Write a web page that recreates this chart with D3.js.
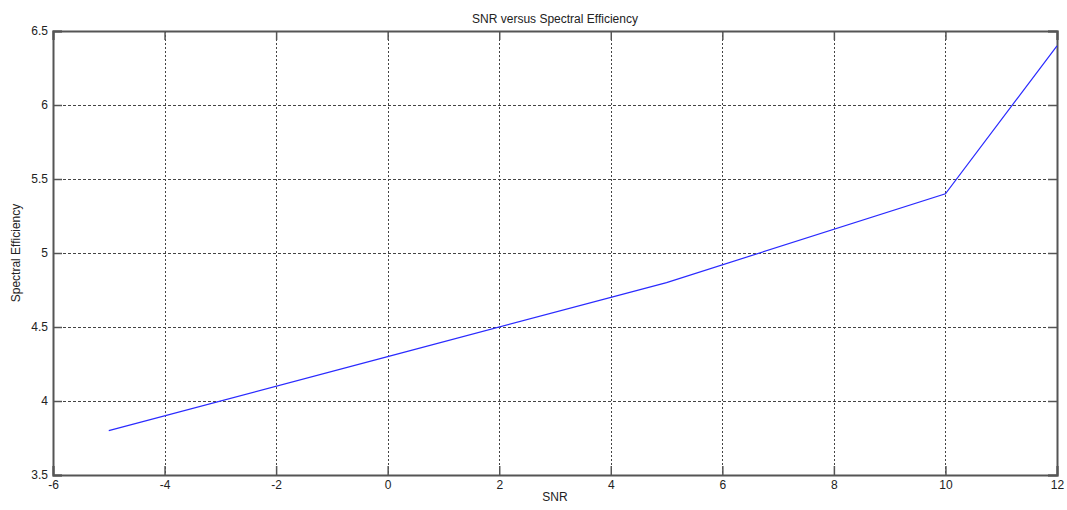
<!DOCTYPE html>
<html>
<head>
<meta charset="utf-8">
<script src="https://cdn.jsdelivr.net/npm/d3@7"></script>
<style>
  html, body { margin: 0; padding: 0; background: #fff; }
  svg { display: block; font-family: "Liberation Sans", Arial, sans-serif; }
</style>
</head>
<body>
<svg id="chart" width="1067" height="510"></svg>
<script>
// SNR (dB) against spectral efficiency
const snr = [-5, 0, 5, 10, 12];
const efficiency = [3.8, 4.3, 4.8, 5.4, 6.4];
const xTicks = [-6, -4, -2, 0, 2, 4, 6, 8, 10, 12];
const yTicks = [3.5, 4, 4.5, 5, 5.5, 6, 6.5];

const svg = d3.select("#chart");
const m = { left: 53, right: 1057, top: 31, bottom: 475 };
const x = d3.scaleLinear().domain([-6, 12]).range([m.left, m.right]);
const y = d3.scaleLinear().domain([3.5, 6.5]).range([m.bottom, m.top]);

const axisColor = "#555";
const gridColor = "#444";
const tickLen = 9;

// grid
const grid = svg.append("g");
grid.selectAll("line.v").data(xTicks.slice(1, -1)).join("line")
  .attr("x1", d => Math.round(x(d)) + 0.5).attr("x2", d => Math.round(x(d)) + 0.5)
  .attr("y1", m.top).attr("y2", m.bottom)
  .attr("stroke", gridColor).attr("stroke-width", 1).attr("stroke-dasharray", "2,2");
grid.selectAll("line.h").data(yTicks.slice(1, -1)).join("line")
  .attr("y1", d => Math.round(y(d)) + 0.5).attr("y2", d => Math.round(y(d)) + 0.5)
  .attr("x1", m.left).attr("x2", m.right)
  .attr("stroke", gridColor).attr("stroke-width", 1).attr("stroke-dasharray", "3,2");

// axes: bottom/left with labels, top/right mirrored ticks
const axisB = d3.axisBottom(x).tickValues(xTicks).tickSize(-tickLen).tickPadding(5).tickFormat(d => String(d));
const axisT = d3.axisTop(x).tickValues(xTicks).tickSize(-tickLen).tickFormat("");
const axisL = d3.axisLeft(y).tickValues(yTicks).tickSize(-tickLen).tickPadding(5).tickFormat(d => String(d));
const axisR = d3.axisRight(y).tickValues(yTicks).tickSize(-tickLen).tickFormat("");

function styleAxis(g) {
  g.select(".domain").attr("stroke", axisColor).attr("stroke-width", 2);
  g.selectAll(".tick line").attr("stroke", axisColor).attr("stroke-width", 1.5);
  g.selectAll(".tick text").attr("fill", "#222").style("font-size", "12px");
}
svg.append("g").attr("transform", `translate(0,${m.bottom})`).call(axisB).call(styleAxis);
svg.append("g").attr("transform", `translate(0,${m.top})`).call(axisT).call(styleAxis);
svg.append("g").attr("transform", `translate(${m.left},0)`).call(axisL).call(styleAxis);
svg.append("g").attr("transform", `translate(${m.right},0)`).call(axisR).call(styleAxis);

// series line
const line = d3.line().x((d, i) => x(snr[i])).y(d => y(d));
svg.append("path").datum(efficiency)
  .attr("d", line).attr("fill", "none")
  .attr("stroke", "#2a2aff").attr("stroke-width", 1.2);

// titles
svg.append("text").attr("x", (m.left + m.right) / 2).attr("y", 23)
  .attr("text-anchor", "middle").style("font-size", "12px").attr("fill", "#222")
  .text("SNR versus Spectral Efficiency");
svg.append("text").attr("x", (m.left + m.right) / 2).attr("y", 501)
  .attr("text-anchor", "middle").style("font-size", "12px").attr("fill", "#222")
  .text("SNR");
svg.append("text").attr("transform", `translate(20,${(m.top + m.bottom) / 2}) rotate(-90)`)
  .attr("text-anchor", "middle").style("font-size", "12px").attr("fill", "#222")
  .text("Spectral Efficiency");
</script>
</body>
</html>
